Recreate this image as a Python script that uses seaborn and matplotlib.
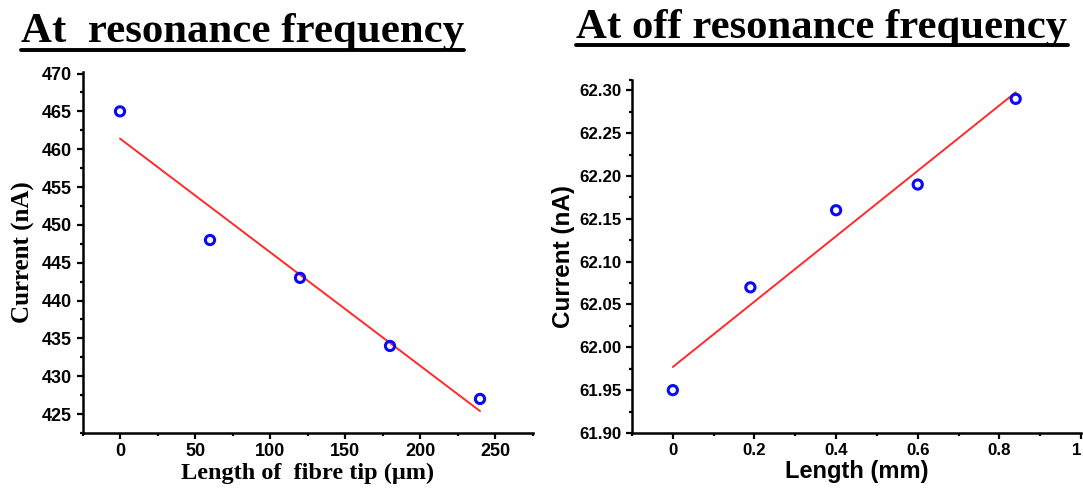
import matplotlib
matplotlib.use("Agg")
import matplotlib.pyplot as plt
import seaborn as sns
import numpy as np
import pandas as pd
from matplotlib.ticker import FixedLocator
from matplotlib.lines import Line2D

# ---- data ----
tip_length_um = [0, 60, 120, 180, 240]
current_res_nA = [465, 448, 443, 434, 427]

length_mm = [0, 0.19, 0.40, 0.60, 0.84]
current_off_nA = [61.95, 62.07, 62.16, 62.19, 62.29]

titles = ["At  resonance frequency", "At off resonance frequency"]
left_ylabel = "Current (nA)"
left_xlabel = "Length of  fibre tip (\u03bcm)"
right_ylabel = "Current (nA)"
right_xlabel = "Length (mm)"
left_xticks = [0, 50, 100, 150, 200, 250]
left_yticks = [425, 430, 435, 440, 445, 450, 455, 460, 465, 470]
right_xticks = [0, 0.2, 0.4, 0.6, 0.8, 1.0]
right_xticklabels = ["0", "0.2", "0.4", "0.6", "0.8", "1"]
right_yticks = [61.90, 61.95, 62.00, 62.05, 62.10, 62.15, 62.20, 62.25, 62.30]

sns.set_theme(style="ticks")
plt.rcParams['font.family'] = ['Liberation Sans', 'DejaVu Sans']
plt.rcParams['text.color'] = 'black'
plt.rcParams['axes.labelcolor'] = 'black'
plt.rcParams['xtick.color'] = 'black'
plt.rcParams['ytick.color'] = 'black'
SERIF = ["Liberation Serif", "DejaVu Serif"]

W, H = 1083, 495
fig = plt.figure(figsize=(W / 100, H / 100), dpi=100)

def px_axes(x0, y0, x1, y1):
    return fig.add_axes([x0 / W, 1 - y1 / H, (x1 - x0) / W, (y1 - y0) / H])

ax1 = px_axes(82.5, 72, 532.5, 433)
ax2 = px_axes(632, 80, 1081, 433)

df1 = pd.DataFrame({"x": tip_length_um, "y": current_res_nA})
df2 = pd.DataFrame({"x": length_mm, "y": current_off_nA})

blue = "#0a0af5"
red = "#ff2a2a"

for ax, df, lsize in [(ax1, df1, 13), (ax2, df2, 12.2)]:
    sns.regplot(data=df, x="x", y="y", ax=ax, scatter=False, ci=None,
                line_kws=dict(color=red, lw=1.4), truncate=True)
    sns.scatterplot(data=df, x="x", y="y", ax=ax, s=44, marker="o",
                    facecolor="none", edgecolor=blue, linewidth=2.2, zorder=5)
    sns.despine(ax=ax)
    for sp in ["left", "bottom"]:
        ax.spines[sp].set_linewidth(1.8)
        ax.spines[sp].set_color("black")
    ax.tick_params(which="major", direction="out", length=4.5, width=1.6,
                   colors="black", labelsize=lsize, pad=3)
    ax.tick_params(which="minor", direction="out", length=2.5, width=1.6, colors="black")

# left axes
ax1.set_xlim(-25, 275)
ax1.set_ylim(422.5, 470.2)
ax1.xaxis.set_major_locator(FixedLocator(left_xticks))
ax1.xaxis.set_minor_locator(FixedLocator([-25, 25, 75, 125, 175, 225, 275]))
ax1.yaxis.set_major_locator(FixedLocator(left_yticks))
ax1.yaxis.set_minor_locator(FixedLocator([t - 2.5 for t in left_yticks]))
ax1.set_xlabel(left_xlabel, family=SERIF, fontweight="bold", fontsize=17.5, labelpad=2)
ax1.set_ylabel(left_ylabel, family=SERIF, fontweight="bold", fontsize=18, labelpad=5)

# right axes
ax2.set_xlim(-0.1, 1.0)
ax2.set_ylim(61.90, 62.312)
ax2.xaxis.set_major_locator(FixedLocator(right_xticks))
ax2.set_xticklabels(right_xticklabels)
ax2.xaxis.set_minor_locator(FixedLocator([-0.1, 0.1, 0.3, 0.5, 0.7, 0.9]))
ax2.yaxis.set_major_locator(FixedLocator(right_yticks))
ax2.set_yticklabels([f"{v:.2f}" for v in right_yticks])
ax2.yaxis.set_minor_locator(FixedLocator([v + 0.025 for v in right_yticks[:-1]] + [62.312]))
ax2.set_xlabel(right_xlabel, fontweight="bold", fontsize=17, labelpad=1)
ax2.set_ylabel(right_ylabel, fontweight="bold", fontsize=17.5, labelpad=3)

for ax in (ax1, ax2):
    for lab in ax.get_xticklabels() + ax.get_yticklabels():
        lab.set_fontweight("bold")
# the last label sits at the figure edge: align it so it stays inside
ax2.get_xticklabels()[-1].set_horizontalalignment("right")

# titles with underline
renderer = fig.canvas.get_renderer()
title_specs = [(titles[0], 21, 464, 42, 50), (titles[1], 576, 1068, 38, 45)]
for text, x0, x1, base, uy in title_specs:
    t = fig.text(x0 / W, 1 - base / H, text, family=SERIF, color="black",
                 fontweight="bold", fontsize=26, va="baseline", ha="left")
    bb = t.get_window_extent(renderer=renderer)
    t.set_fontsize(26 * (x1 - x0) / bb.width)
    fig.add_artist(Line2D([x0 / W, x1 / W], [1 - uy / H, 1 - uy / H],
                          transform=fig.transFigure, color="black", lw=2.8))

fig.savefig("out.png", dpi=100)
